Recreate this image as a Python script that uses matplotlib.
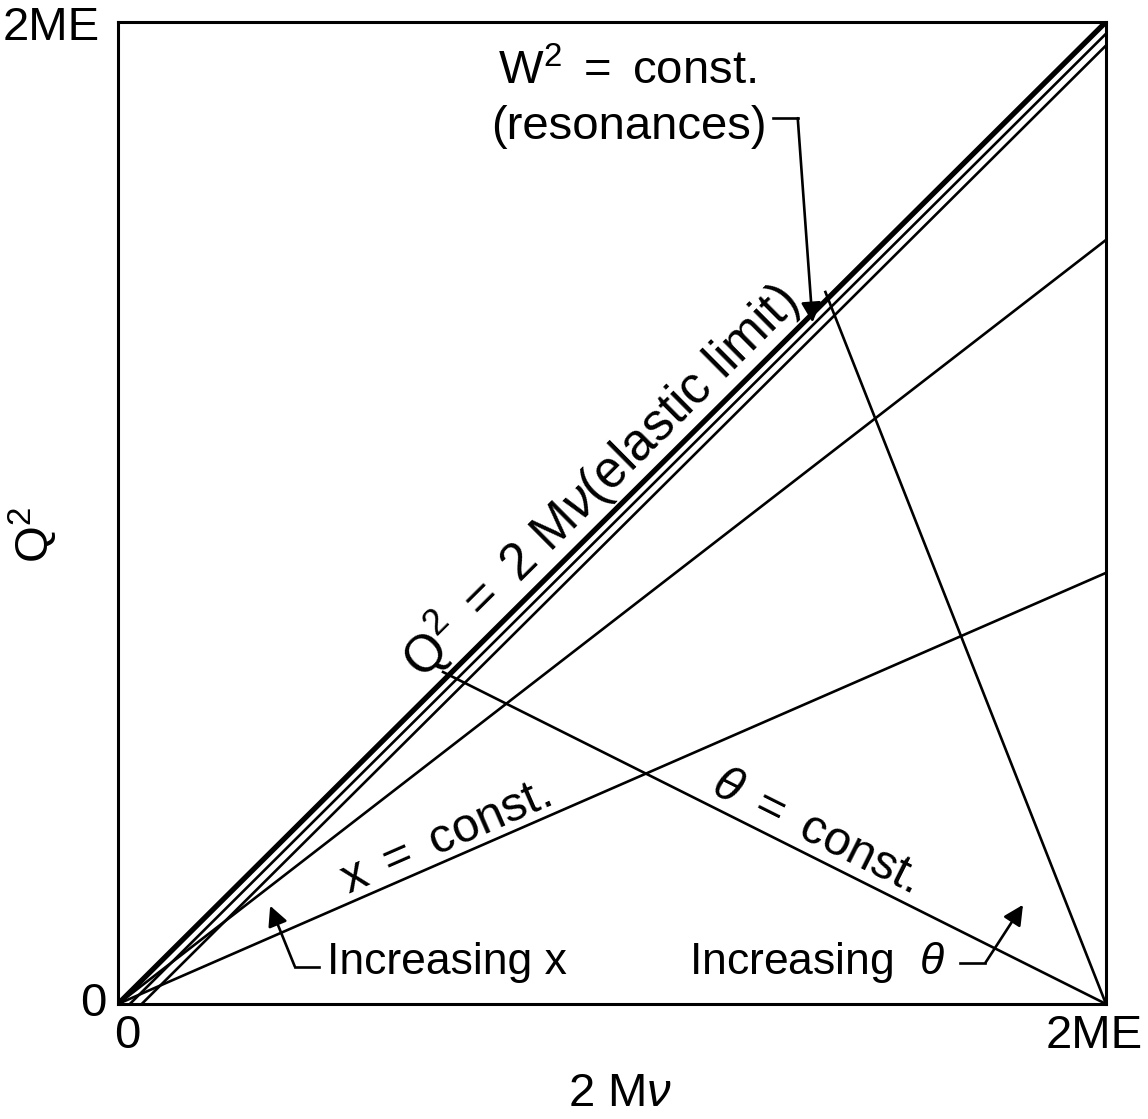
import numpy as np
import matplotlib.pyplot as plt

plt.rcParams['font.family'] = ['Liberation Sans', 'DejaVu Sans']
plt.rcParams['mathtext.fontset'] = 'custom'
plt.rcParams['mathtext.rm'] = 'Liberation Sans'
plt.rcParams['mathtext.it'] = 'Liberation Sans:italic'

# axes run from 0 to 2ME, scaled to 0..1
tick_pos = [0, 1]
tick_labels = ['0', '2ME']

# W^2 = const lines sit just below the elastic limit: Q^2 = 2Mv - c
w2_offsets = [0.012, 0.024]
# x = const lines through the origin, value of Q^2 at 2Mv = 2ME
x_const_ends = [0.778, 0.439]
# theta = const lines from (2ME, 0) up to the elastic limit at these 2Mv
theta_ends = [0.335, 0.722]

fig = plt.figure(figsize=(11.48, 11.19), dpi=100)
ax = fig.add_axes([0.1028, 0.1028, 0.8606, 0.8776])
ax.set_xlim(0, 1)
ax.set_ylim(0, 1)

fs = 34
thin = 1.9

# elastic limit and resonance lines
ax.plot([0, 1], [0, 1], color='black', lw=3.8, solid_capstyle='butt')
for c in w2_offsets:
    ax.plot([c, 1], [0, 1 - c], color='black', lw=thin)

for s in x_const_ends:
    ax.plot([0, 1], [0, s], color='black', lw=thin)

for t in theta_ends:
    ax.plot([t - 0.006, 1], [t + 0.003, 0], color='black', lw=thin)

for sp in ax.spines.values():
    sp.set_linewidth(2.2)
ax.set_xticks([])
ax.set_yticks([])

# tick labels
ax.text(tick_pos[0] + 0.009, -0.033, tick_labels[0], transform=ax.transAxes,
        ha='center', va='center', fontsize=fs)
ax.text(tick_pos[1] + 0.037, -0.033, tick_labels[1], transform=ax.transAxes,
        ha='right', va='center', fontsize=fs)
ax.text(-0.012, tick_pos[0], tick_labels[0], transform=ax.transAxes,
        ha='right', va='center', fontsize=fs)
ax.text(-0.018, tick_pos[1] - 0.006, tick_labels[1], transform=ax.transAxes,
        ha='right', va='center', fontsize=fs)

# axis labels
fig.text(620 / 1148, 1 - 1094 / 1119, '2 M$\\nu$', ha='center', va='center',
         fontsize=fs)
fig.text(33 / 1148, 1 - 535 / 1119, 'Q$^2$', ha='center', va='center',
         fontsize=fs, rotation=90)


def line_label(text, x0, y0, angle, gap, size):
    # text sits along a line, baseline shifted off it by gap points
    a = np.radians(angle)
    dx, dy = -np.sin(a) * gap, np.cos(a) * gap
    ax.annotate(text, xy=(x0, y0), xytext=(dx, dy), textcoords='offset points',
                rotation=angle, rotation_mode='anchor', ha='center',
                va='baseline', fontsize=size)


line_label('Q$^2$ $=$ 2 M$\\nu$(elastic limit)', 0.51, 0.51, 44.8, 10, 37)
line_label('x $=$ const.', 0.34, 0.34 * x_const_ends[1], 23.6, 6, 35)
xt = 0.695
line_label('$\\theta$ $=$ const.', xt, theta_ends[0] * (1 - xt) / (1 - theta_ends[0]),
           -26.6, 8, 35)

ax.text(0.385, 0.949, 'W$^2$ $=$ const.', ha='left', va='center', fontsize=fs)
ax.text(0.378, 0.893, '(resonances)', ha='left', va='center', fontsize=fs)
ax.plot([0.663, 0.688], [0.902, 0.902], color='black', lw=thin)
ax.annotate('', xy=(0.703, 0.694), xytext=(0.688, 0.902),
            arrowprops=dict(arrowstyle='-|>', color='black', lw=thin,
                            mutation_scale=30, shrinkA=0, shrinkB=0))

# increasing x / theta
fs2 = 32
ax.text(0.212, 0.042, 'Increasing x', ha='left', va='center', fontsize=fs2)
ax.plot([0.203, 0.179], [0.038, 0.038], color='black', lw=thin)
ax.annotate('', xy=(0.154, 0.100), xytext=(0.179, 0.038),
            arrowprops=dict(arrowstyle='-|>', color='black', lw=thin,
                            mutation_scale=30, shrinkA=0, shrinkB=0))
ax.text(0.578, 0.042, 'Increasing  $\\theta$', ha='left', va='center', fontsize=fs2)
ax.plot([0.852, 0.878], [0.042, 0.042], color='black', lw=thin)
ax.annotate('', xy=(0.916, 0.101), xytext=(0.878, 0.042),
            arrowprops=dict(arrowstyle='-|>', color='black', lw=thin,
                            mutation_scale=30, shrinkA=0, shrinkB=0))

fig.savefig('out.png', dpi=100)
